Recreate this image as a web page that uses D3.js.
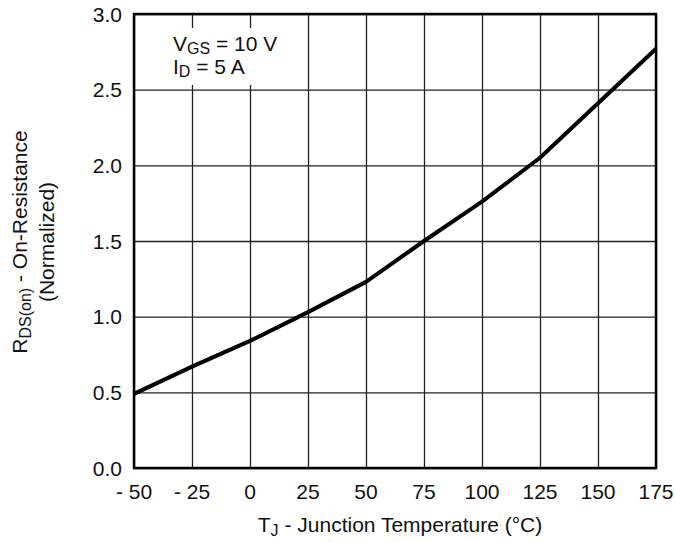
<!DOCTYPE html>
<html>
<head>
<meta charset="utf-8">
<script src="https://cdn.jsdelivr.net/npm/d3@7"></script>
<style>
  body { margin: 0; background: #fff; }
  text { font-family: "Liberation Sans", Arial, sans-serif; fill: #111; }
</style>
</head>
<body>
<div class="chart"></div>
<script>
const svgWidth = 675
const svgHeight = 542

let margin = { top: 14, right: 19, bottom: 74, left: 134 }
let width = svgWidth - margin.left - margin.right
let height = svgHeight - margin.top - margin.bottom

const fontSize = 21
const subSize = 16

// data
const temps = [-50, -25, 0, 25, 50, 75, 100, 125, 150, 175]
const rdsNorm = [0.49, 0.67, 0.84, 1.03, 1.23, 1.50, 1.76, 2.05, 2.41, 2.77]
const xTicks = [-50, -25, 0, 25, 50, 75, 100, 125, 150, 175]
const yTicks = [0, 0.5, 1.0, 1.5, 2.0, 2.5, 3.0]

let svg = d3.select(".chart").append("svg")
  .attr("width", svgWidth)
  .attr("height", svgHeight)

let chartGroup = svg.append("g")
  .attr("transform", `translate(${margin.left}, ${margin.top})`)

let x = d3.scaleLinear().domain([-50, 175]).range([0, width])
let y = d3.scaleLinear().domain([0, 3]).range([height, 0])

// grid
chartGroup.append("g")
  .attr("transform", `translate(0, ${height})`)
  .call(d3.axisBottom(x).tickValues(xTicks).tickSize(-height).tickFormat(""))
chartGroup.append("g")
  .call(d3.axisLeft(y).tickValues(yTicks).tickSize(-width).tickFormat(""))
chartGroup.selectAll(".domain").remove()
chartGroup.selectAll(".tick line")
  .attr("stroke", "#222")
  .attr("stroke-width", 1.3)

// white box behind the test conditions
chartGroup.append("rect")
  .attr("x", 20).attr("y", 14)
  .attr("width", 150).attr("height", 57)
  .attr("fill", "#fff")

// tick labels
chartGroup.selectAll(".xlab")
  .data(xTicks)
  .enter()
  .append("text")
  .attr("x", d => x(d))
  .attr("y", height + 31)
  .attr("text-anchor", "middle")
  .attr("font-size", fontSize)
  .text(d => d < 0 ? "- " + Math.abs(d) : d)

chartGroup.selectAll(".ylab")
  .data(yTicks)
  .enter()
  .append("text")
  .attr("x", -12)
  .attr("y", d => y(d))
  .attr("dy", "0.36em")
  .attr("text-anchor", "end")
  .attr("font-size", fontSize)
  .text(d => d.toFixed(1))

// curve
let line = d3.line()
  .x((d, i) => x(temps[i]))
  .y(d => y(d))
chartGroup.append("path")
  .datum(rdsNorm)
  .attr("d", line)
  .attr("fill", "none")
  .attr("stroke", "#000")
  .attr("stroke-width", 4)
  .attr("stroke-linejoin", "round")

// frame
chartGroup.append("rect")
  .attr("width", width)
  .attr("height", height)
  .attr("fill", "none")
  .attr("stroke", "#000")
  .attr("stroke-width", 2.5)

// test conditions
let cond1 = chartGroup.append("text")
  .attr("x", 39).attr("y", 37)
  .attr("font-size", fontSize)
cond1.append("tspan").text("V")
cond1.append("tspan").attr("font-size", subSize).attr("dy", 3).text("GS")
cond1.append("tspan").attr("dy", -3).text(" = 10 V")

let cond2 = chartGroup.append("text")
  .attr("x", 39).attr("y", 60)
  .attr("font-size", fontSize)
cond2.append("tspan").text("I")
cond2.append("tspan").attr("font-size", subSize).attr("dy", 3).text("D")
cond2.append("tspan").attr("dy", -3).text(" = 5 A")

// x axis label
let xLabel = svg.append("text")
  .attr("x", margin.left + width / 2 + 5)
  .attr("y", 532)
  .attr("text-anchor", "middle")
  .attr("font-size", fontSize)
xLabel.append("tspan").text("T")
xLabel.append("tspan").attr("font-size", subSize).attr("dy", 4).text("J")
xLabel.append("tspan").attr("dy", -4).text(" - Junction Temperature (°C)")

// y axis label
let yLabel = svg.append("g")
  .attr("transform", `translate(0, ${margin.top + 228}) rotate(-90)`)
let yl1 = yLabel.append("text")
  .attr("x", 0).attr("y", 27)
  .attr("text-anchor", "middle")
  .attr("font-size", fontSize)
yl1.append("tspan").text("R")
yl1.append("tspan").attr("font-size", subSize).attr("dy", 4).text("DS(on)")
yl1.append("tspan").attr("dy", -4).text(" - On-Resistance")
yLabel.append("text")
  .attr("x", 0).attr("y", 54)
  .attr("text-anchor", "middle")
  .attr("font-size", fontSize)
  .text("(Normalized)")
</script>
</body>
</html>
